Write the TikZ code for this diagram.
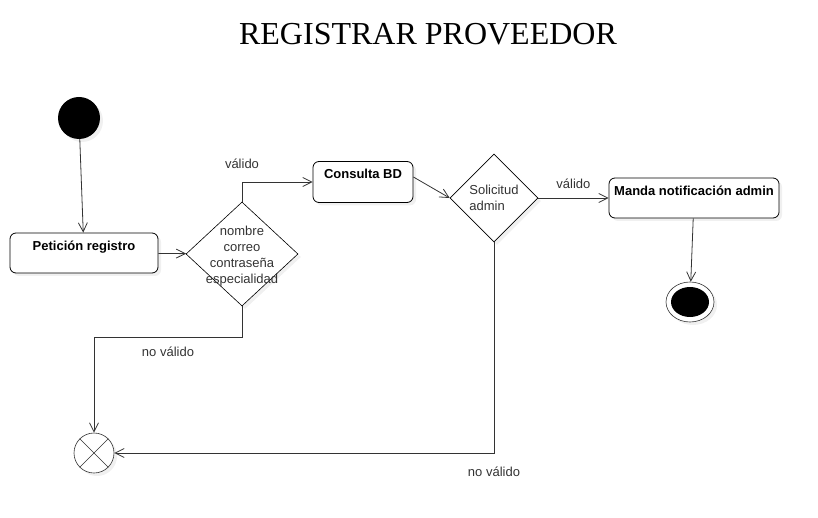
\documentclass[tikz,border=0pt]{standalone}
\usepackage{fontspec}
\setmainfont{Liberation Sans}
\newfontfamily\titlefont{Liberation Serif}
\usepackage{tikz}
\usetikzlibrary{shapes.geometric, arrows.meta, shadows}
\definecolor{linegray}{HTML}{333333}
\definecolor{textgray}{HTML}{333333}
\tikzstyle{shade} =
[drop shadow={shadow xshift=3pt, shadow yshift=-3pt, opacity=0.12}]
\tikzstyle{startnode} =
[circle, minimum size = 42pt, inner sep = 0pt, fill=black, shade]
\tikzstyle{action} =
[rectangle, rounded corners = 6pt, draw=black, fill=white, line width=0.8pt, shade]
\tikzstyle{decision} =
[diamond, inner sep = 0pt, draw=black, fill=white, line width=0.6pt, shade]
\tikzstyle{flowend} =
[circle, minimum size = 40pt, inner sep = 0pt, draw=linegray, fill=white,
line width=0.6pt, shade]
\tikzstyle{endouter} =
[ellipse, minimum width = 48pt, minimum height = 40pt, inner sep = 0pt,
draw=linegray, fill=white, line width=0.6pt, shade]
\tikzstyle{endinner} =
[ellipse, minimum width = 38pt, minimum height = 30pt, inner sep = 0pt, fill=black]
\tikzstyle{guard} = [text=textgray, font=\fontsize{13}{15}\selectfont]
\tikzstyle{caption} = [text=textgray, font=\fontsize{13}{16}\selectfont]
\tikzstyle{boxlabel} = [anchor=north, yshift=-4.5pt, font=\bfseries\fontsize{13}{15}\selectfont]
\tikzstyle{line} = [draw=linegray, line width=0.8pt, -{Straight Barb[length=9pt, width=9pt]}]

\begin{document}
\begin{tikzpicture}[x=1pt, y=-1pt]
  \useasboundingbox (0,0) rectangle (818,518);
  % title
  \node [font=\titlefont\fontsize{32}{36}\selectfont] (title) at (428,34)
   {REGISTRAR PROVEEDOR};
  % nodes
  \node [startnode] (start) at (79,118) {};
  \node [action, minimum width = 148pt, minimum height = 40pt,
   label={[boxlabel]north:Petición registro}] (peticion) at (84,253) {};
  \node [decision, minimum width = 112pt, minimum height = 104pt,
   label={[caption, align=center, yshift=-2pt]center:nombre\\correo\\contraseña\\especialidad}]
   (datos) at (242,254) {};
  \node [action, minimum width = 100pt, minimum height = 41pt,
   label={[boxlabel]north:Consulta BD}] (consulta) at (363,182) {};
  \node [decision, minimum width = 88pt, minimum height = 88pt,
   label={[caption, align=left]center:Solicitud\\admin}] (solicitud) at (494,198) {};
  \node [action, minimum width = 170pt, minimum height = 40pt,
   label={[boxlabel]north:Manda notificación admin}] (manda) at (694,198) {};
  \node [endouter] (fin) at (690,302) {};
  \node [endinner] (fincore) at (fin) {};
  \node [flowend] (cancel) at (94,453) {};
  \draw [linegray, line width=0.6pt] (cancel.north west) -- (cancel.south east);
  \draw [linegray, line width=0.6pt] (cancel.north east) -- (cancel.south west);
  % edges
  \path [line] (start) -- (peticion);
  \path [line] (peticion) -- (datos);
  \path [line] (datos.north) |- node [guard, above=10pt] {válido} (consulta.west);
  \path [line] ([yshift=5pt]consulta.east) -- (solicitud.west);
  \path [line] (solicitud.east) -- node [guard, above=6pt] {válido} (manda.west);
  \path [line] (manda) -- (fin);
  \path [line] (datos.south) -- ++(0,31)
   -| node [guard, below=6pt, pos=0.25] {no válido} (cancel.north);
  \path [line] (solicitud.south) |- node [guard, below=10pt] {no válido} (cancel.east);
\end{tikzpicture}
\end{document}
